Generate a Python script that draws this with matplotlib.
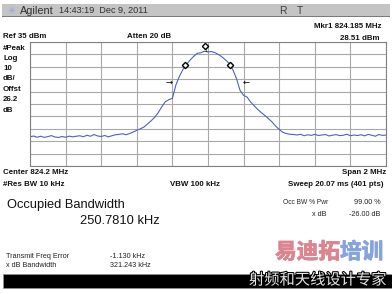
import matplotlib.pyplot as plt
import matplotlib.patheffects as pe
from matplotlib.patches import Rectangle
import numpy as np

plt.rcParams['font.family'] = ['Liberation Sans', 'DejaVu Sans']

W, H = 392, 294

# instrument settings
ref_dbm = 35
db_per_div = 10
center_mhz = 824.2
span_mhz = 2.0
mkr_freq_mhz = 824.185
mkr_dbm = 28.51
obw_khz = 250.7810
freq_err_khz = -1.130
xdb = -26.00
xdb_bw_khz = 321.243

# trace, 20 kHz apart, from -1 MHz to +1 MHz around center
trace_dbm = [
    -41.5, -40.8, -41.8, -41.0, -41.9, -41.3, -40.5, -41.6, -42.0, -41.2,
    -41.8, -40.9, -41.5, -41.0, -40.6, -41.4, -40.2, -41.0, -39.6, -40.8,
    -41.2, -40.4, -41.5, -40.6, -39.8, -39.5, -39.0, -39.8, -38.8, -37.6,
    -36.2, -35.0, -33.6, -31.2, -28.6, -25.8, -22.0, -17.4, -13.2, -11.5,
    -10.4, 0.5, 7.5, 13.0, 17.0, 20.5, 23.5, 25.9, 26.3, 27.6,
    27.0, 27.3, 26.4, 24.8, 22.8, 20.4, 17.5, 12.5, 5.5, -4.0,
    -8.0, -9.5, -13.5, -16.5, -19.5, -22.0, -24.3, -26.8, -29.5, -32.8,
    -35.5, -37.8, -38.8, -39.4, -39.6, -40.0, -39.4, -40.6, -39.8, -40.3,
    -39.5, -40.4, -40.0, -39.6, -40.8, -40.1, -39.7, -40.5, -40.2, -39.4,
    -40.6, -40.0, -40.4, -39.8, -40.7, -39.5, -40.2, -41.0, -39.6, -40.3,
    -40.1,
]

# diamond markers (offset kHz, dBm) and x dB arrows
diamond_khz = [-15, -126.5, 123.9]
diamond_dbm = [32.0, 16.5, 16.5]
arrow_khz = [-220, 212]


def px(x, y):
    return x / W, 1 - y / H


fig = plt.figure(figsize=(W / 100, H / 100), dpi=100)
fig.patch.set_facecolor('white')

# header bar
x0, y0 = px(2, 17)
fig.patches.append(Rectangle((x0, y0), 388 / W, 13 / H, transform=fig.transFigure,
                             facecolor='#c4c4c4', edgecolor='none'))
fig.patches.append(Rectangle((x0, y0), 388 / W, 1.2 / H, transform=fig.transFigure,
                             facecolor='#7a7a7a', edgecolor='none'))
fig.text(*px(7, 10.5), '✳', fontsize=7, color='#8fa6e0', va='center',
         family=['DejaVu Sans'])
fig.text(*px(20, 10.5), 'Agilent', fontsize=7.8, color='#303030', va='center')
fig.text(*px(59, 10.5), '14:43:19  Dec 9, 2011', fontsize=6.6, color='#303030', va='center')
fig.text(*px(279, 10.5), 'R', fontsize=7.5, color='#404040', va='center')
fig.text(*px(297, 10.5), 'T', fontsize=7.5, color='#404040', va='center')

# trace area
ax = fig.add_axes([30 / W, 1 - 166 / H, 356 / W, 124 / H])
freqs = np.linspace(center_mhz - span_mhz / 2, center_mhz + span_mhz / 2, len(trace_dbm))
ax.plot(freqs, trace_dbm, color='#5060c0', lw=0.8)
ax.plot(center_mhz + np.array(diamond_khz) / 1000, diamond_dbm, 'D', ms=3.2,
        mfc='white', mec='black', mew=1.0)
ax.text(mkr_freq_mhz + 0.004, 28.5, '1', fontsize=3.5, ha='center', va='center')
for i, a in enumerate(arrow_khz):
    ax.text(center_mhz + a / 1000, mkr_dbm + xdb, '→' if i == 0 else '←',
            fontsize=6, ha='center', va='center', family=['DejaVu Sans'])

ax.set_xlim(center_mhz - span_mhz / 2, center_mhz + span_mhz / 2)
ax.set_ylim(ref_dbm - 10 * db_per_div, ref_dbm)
ax.set_xticks(np.linspace(center_mhz - span_mhz / 2, center_mhz + span_mhz / 2, 11))
ax.set_yticks(np.linspace(ref_dbm - 10 * db_per_div, ref_dbm, 11))
ax.tick_params(length=0, labelbottom=False, labelleft=False)
ax.grid(True, color='#a8a8a8', lw=0.8)
for s in ax.spines.values():
    s.set_color('#808080')
    s.set_linewidth(0.8)

b = dict(fontsize=5.7, fontweight='bold', va='center', color='#111111')
fig.text(*px(3, 37), 'Ref 35 dBm', **b)
fig.text(*px(149, 37), 'Atten 20 dB', ha='center', **b)
fig.text(*px(381, 26), 'Mkr1 824.185 MHz', ha='right', **b)
fig.text(*px(380, 38), '28.51 dBm', ha='right', **b)
for lab, yy in zip(['#Peak', 'Log', '10', 'dB/', 'Offst', '26.2', 'dB'],
                   [48, 58.5, 68.5, 79, 89.5, 99.5, 110]):
    fig.text(*px(3, yy), lab, **b)
fig.text(*px(3, 172), 'Center 824.2 MHz', **b)
fig.text(*px(386, 172), 'Span 2 MHz', ha='right', **b)
fig.text(*px(3, 184), '#Res BW 10 kHz', **b)
fig.text(*px(170, 184), 'VBW 100 kHz', **b)
fig.text(*px(383, 184), 'Sweep 20.07 ms (401 pts)', ha='right', **b)

# measurement results
fig.text(*px(7, 205), 'Occupied Bandwidth', fontsize=9.3, va='center', color='#111111')
fig.text(*px(80, 221), f'{obw_khz:.4f} kHz', fontsize=9.3, va='center', color='#111111')
s = dict(fontsize=5.2, va='center', color='#222222')
fig.text(*px(283, 203), 'Occ BW % Pwr', fontsize=4.8, va='center', color='#222222')
fig.text(*px(381, 203), '99.00 %', ha='right', **s)
fig.text(*px(326, 215), 'x dB', ha='right', **s)
fig.text(*px(380, 215), f'{xdb:.2f} dB', ha='right', **s)
fig.text(*px(6, 256), 'Transmit Freq Error', **s)
fig.text(*px(110, 256), f'{freq_err_khz:.3f} kHz', **s)
fig.text(*px(6, 265.5), 'x dB Bandwidth', **s)
fig.text(*px(110, 265.5), f'{xdb_bw_khz:.3f} kHz', **s)

# black bar and watermark
x0, y0 = px(3, 288)
fig.patches.append(Rectangle((x0, y0), 389 / W, 14 / H, transform=fig.transFigure,
                             facecolor='black', edgecolor='#909090', lw=0.6))
cjk = ['Noto Sans CJK SC', 'DejaVu Sans']
red, blue = '#dc8490', '#86a4dc'
fig.text(*px(275, 252), '易迪拓', fontsize=15.6, fontweight='bold', color=red,
         va='center', family=cjk,
         path_effects=[pe.withStroke(linewidth=0.6, foreground=red)])
fig.text(*px(340, 252), '培训', fontsize=15.6, fontweight='bold', color=blue,
         va='center', family=cjk,
         path_effects=[pe.withStroke(linewidth=0.6, foreground=blue)])
fig.text(*px(249, 280), '射频和天线设计专家', fontsize=11, color='#e6e6e6',
         va='center', family=cjk,
         path_effects=[pe.withStroke(linewidth=1.5, foreground='black')])

fig.savefig('out.png', dpi=100)
